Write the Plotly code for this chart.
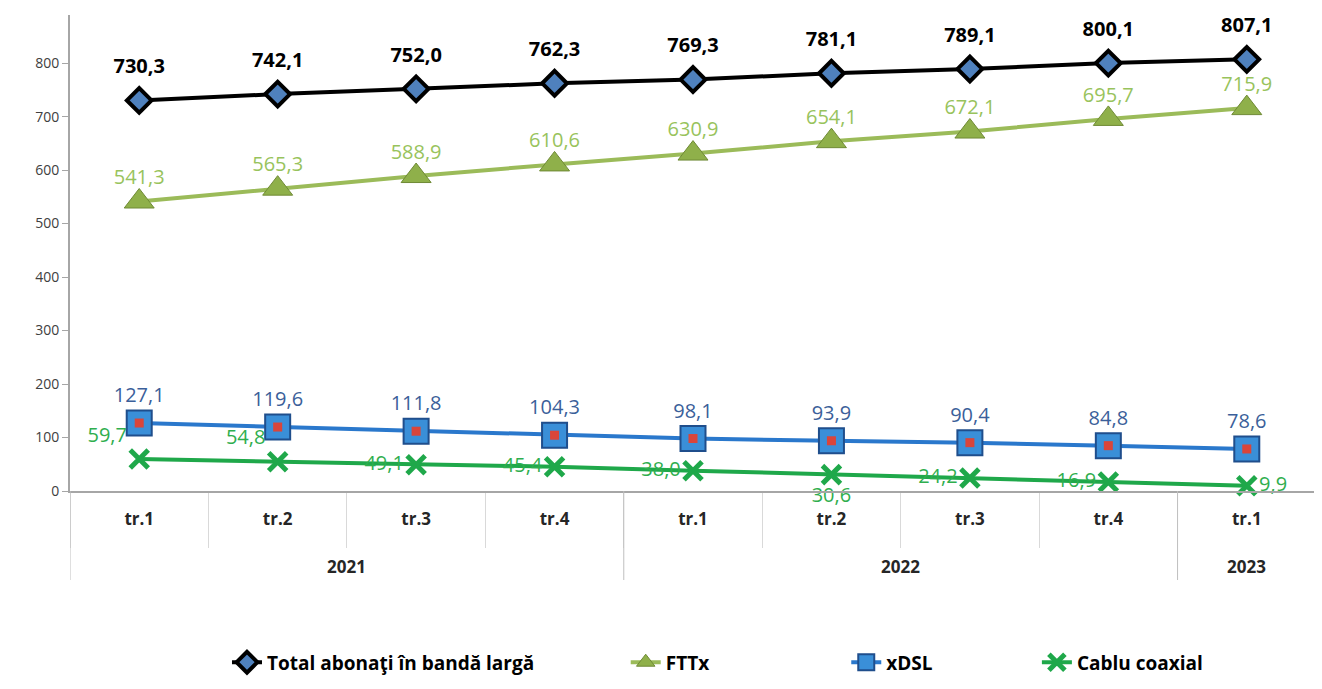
import plotly.graph_objects as go

# ani / trimestre
years = ["2021", "2021", "2021", "2021", "2022", "2022", "2022", "2022", "2023"]
quarters = ["tr.1", "tr.2", "tr.3", "tr.4", "tr.1", "tr.2", "tr.3", "tr.4", "tr.1"]

# abonati (mii)
total = [730.3, 742.1, 752.0, 762.3, 769.3, 781.1, 789.1, 800.1, 807.1]
fttx = [541.3, 565.3, 588.9, 610.6, 630.9, 654.1, 672.1, 695.7, 715.9]
xdsl = [127.1, 119.6, 111.8, 104.3, 98.1, 93.9, 90.4, 84.8, 78.6]
cablu = [59.7, 54.8, 49.1, 45.4, 38.0, 30.6, 24.2, 16.9, 9.9]

FONT = "Open Sans, Arial, sans-serif"


def fmt(vals):
    return [f"{v:.1f}".replace(".", ",") for v in vals]


def labels(fig, y, gap, font):
    # eticheta separata, cu marker invizibil ca sa reglez distanta fata de punct
    fig.add_trace(go.Scatter(
        x=x, y=y, mode="markers+text", showlegend=False, hoverinfo="skip", cliponaxis=False,
        marker=dict(size=gap, opacity=0), text=fmt(y), textposition="top center", textfont=font,
    ))


x = [f"{y} {q}" for y, q in zip(years, quarters)]

fig = go.Figure()

fig.add_trace(go.Scatter(
    x=x, y=total, name="Total abonaţi în bandă largă", legend="legend",
    mode="lines+markers", cliponaxis=False,
    line=dict(color="#000000", width=4),
    marker=dict(symbol="diamond", size=19, color="#4f81bd", line=dict(color="#000000", width=4)),
))
labels(fig, total, 34, dict(family=FONT, size=20, color="#000000", weight="bold"))

fig.add_trace(go.Scatter(
    x=x, y=fttx, name="FTTx", legend="legend2",
    mode="lines+markers", cliponaxis=False,
    line=dict(color="#9bbb59", width=4),
    marker=dict(symbol="triangle-up", size=26, color="#8fb04a", line=dict(color="#6f8a35", width=1)),
))
labels(fig, fttx, 18, dict(family=FONT, size=20, color="#98c35c"))

fig.add_trace(go.Scatter(
    x=x, y=xdsl, name="xDSL", legend="legend3",
    mode="lines+markers", cliponaxis=False,
    line=dict(color="#2a78cc", width=4),
    marker=dict(symbol="square", size=25, color="#3a8fd8", line=dict(color="#1f4e8c", width=2)),
))
# centrul rosu al markerului xDSL
fig.add_trace(go.Scatter(
    x=x, y=xdsl, mode="markers", showlegend=False, hoverinfo="skip", cliponaxis=False,
    marker=dict(symbol="square", size=9, color="#d9453a"),
))
labels(fig, xdsl, 24, dict(family=FONT, size=20, color="#3b5f9a"))

cablu_pos = ["top left", "top left", "middle left", "middle left", "middle left",
             "bottom center", "middle left", "middle left", "middle right"]
fig.add_trace(go.Scatter(
    x=x, y=cablu, name="Cablu coaxial", legend="legend4",
    mode="lines+markers+text", cliponaxis=False,
    line=dict(color="#1fa84a", width=4),
    marker=dict(symbol="x-thin", size=18, color="#1fa84a", line=dict(color="#1fa84a", width=5)),
    text=fmt(cablu), textposition=cablu_pos,
    textfont=dict(family=FONT, size=20, color="#2fae4e"),
))

leg = dict(orientation="h", xanchor="left", y=-0.36, yanchor="middle",
           font=dict(family=FONT, size=19, color="#000000", weight="bold"),
           bgcolor="rgba(0,0,0,0)")
fig.update_layout(
    width=1322, height=689,
    margin=dict(l=62, r=14, t=7, b=206),
    paper_bgcolor="white", plot_bgcolor="white",
    font=dict(family=FONT, color="#404040"),
    legend=dict(leg, x=0.126),
    legend2=dict(leg, x=0.446),
    legend3=dict(leg, x=0.623),
    legend4=dict(leg, x=0.776),
)
fig.update_xaxes(
    type="category", automargin=False,
    range=[-0.5, len(x) - 0.5],
    tickmode="array", tickvals=x, ticktext=quarters, tickson="boundaries",
    showline=True, linecolor="#a6a6a6", linewidth=2,
    ticks="outside", ticklen=55, tickcolor="#d9d9d9", ticklabelstandoff=12,
    tickfont=dict(family=FONT, size=17, color="#262626", weight="bold"),
    showgrid=False,
)
fig.update_yaxes(
    automargin=False,
    range=[0, 890], tickvals=[0, 100, 200, 300, 400, 500, 600, 700, 800],
    showline=True, linecolor="#a6a6a6", linewidth=2,
    ticks="outside", ticklen=6, tickcolor="#a6a6a6",
    showgrid=False, zeroline=False,
    tickfont=dict(family=FONT, size=14, color="#404040"),
)

# separatoare si etichete pentru ani, calculate din lista de ani
div_bottom = -89 / 476
bounds = [-0.5] + [i + 0.5 for i in range(len(years) - 1) if years[i] != years[i + 1]] + [len(years) - 0.5]
for b in bounds:
    fig.add_shape(type="line", xref="x", yref="paper", x0=b, x1=b, y0=div_bottom, y1=0,
                  line=dict(color="#bfbfbf", width=1))
for y_ in dict.fromkeys(years):
    idx = [i for i, v in enumerate(years) if v == y_]
    fig.add_annotation(x=sum(idx) / len(idx), xref="x", y=-75 / 476, yref="paper",
                       text=y_, showarrow=False, yanchor="middle",
                       font=dict(family=FONT, size=17, color="#262626", weight="bold"))
fig.add_shape(type="line", xref="paper", yref="paper", x0=1, x1=1, y0=0, y1=1,
              line=dict(color="#bfbfbf", width=1))

fig.write_html("out.html")
